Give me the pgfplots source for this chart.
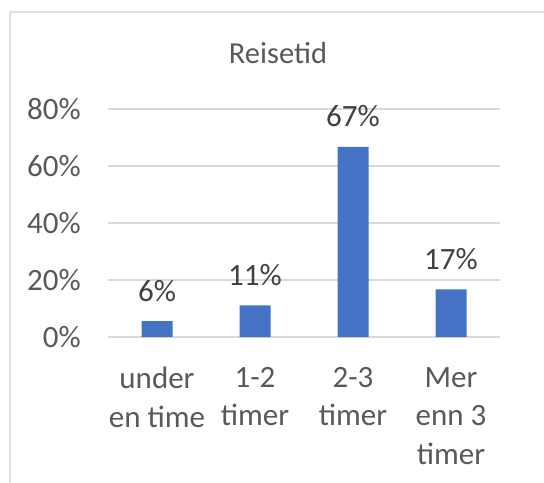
\documentclass[border=0pt]{standalone}
\usepackage{pgfplots}
\pgfplotsset{compat=1.18}
\usepackage{fontspec}
\setmainfont{Carlito}

\definecolor{barblue}{HTML}{4472C4}
\definecolor{txtgray}{HTML}{595959}
\definecolor{lbldark}{HTML}{404040}
\definecolor{gridgray}{HTML}{D9D9D9}
\definecolor{framegray}{HTML}{E0E0E0}

\begin{document}
\begin{tikzpicture}
\useasboundingbox (0,0) rectangle (544bp,483bp);
% chart frame, only its left and top edges fall inside the page
\draw[framegray, line width=2bp] (10bp,-10bp) -- (10bp,471bp) -- (560bp,471bp);
\node[font=\fontsize{30.5bp}{36bp}\selectfont, text=txtgray, anchor=base]
    at (278bp,419bp) {Reisetid};
\begin{axis}[
    at={(108bp,146bp)}, anchor=south west,
    scale only axis,
    width=392bp, height=228bp,
    xmin=-0.5, xmax=3.5,
    ymin=0, ymax=80,
    /pgf/number format/assume math mode=true,
    axis line style={draw=none},
    major tick length=0pt,
    ytick={0,20,40,60,80},
    ymajorgrids,
    grid style={gridgray, line width=1.3bp},
    xtick={0,1,2,3},
    xticklabels={under\\en time, 1-2\\timer, 2-3\\timer, Mer\\enn 3\\timer},
    yticklabel={\pgfmathprintnumber{\tick}\%},
    tick label style={font=\fontsize{31bp}{38.5bp}\selectfont, text=txtgray},
    yticklabel style={anchor=east, inner sep=0pt, xshift=-27bp},
    xticklabel style={align=center, anchor=north, inner sep=0pt, yshift=-30bp},
    ybar, bar width=31bp,
    nodes near coords={\pgfmathprintnumber[fixed, precision=0, assume math mode=true]{\pgfplotspointmeta}\%},
    every node near coord/.append style={anchor=base, inner sep=0pt, yshift=20bp,
        font=\fontsize{31bp}{38.5bp}\selectfont, text=lbldark},
    clip=false,
]
\addplot[fill=barblue, draw=none] coordinates {
    (0,5.6) (1,11.1) (2,66.7) (3,16.7)
};
\end{axis}
\end{tikzpicture}
\end{document}
